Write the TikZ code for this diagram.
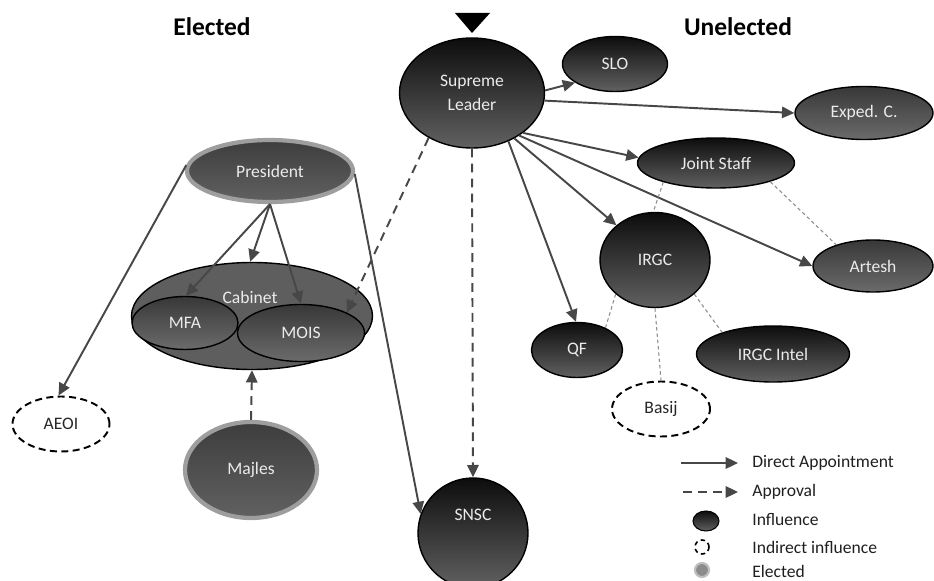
\documentclass[tikz,border=0pt]{standalone}
\usepackage{fontspec}
\setmainfont{Carlito}
\usetikzlibrary{shapes.geometric,arrows.meta}

\begin{document}
\begin{tikzpicture}[x=0.02cm,y=-0.02cm]
			\tikzstyle{every node}+=[inner sep=0pt, font=\fontsize{10}{12}\selectfont]
			\tikzstyle{infl}=[ellipse, draw=black, line width=0.8pt, top color=black!95, bottom color=black!62, text=black!8]
			\tikzstyle{infllt}=[ellipse, draw=black, line width=0.8pt, top color=black!78, bottom color=black!58, text=black!8]
			\tikzstyle{elect}=[ellipse, draw=black!38, line width=2.4pt, top color=black!76, bottom color=black!62, text=black!8]
			\tikzstyle{indir}=[ellipse, draw=black, line width=1.1pt, dash pattern=on 4pt off 2.5pt, fill=white, text=black!85]
			\tikzstyle{appt}=[draw=black!72, line width=1.1pt, -{Triangle[length=7pt,width=6.5pt]}]
			\tikzstyle{apprv}=[appt, dash pattern=on 5pt off 3.5pt]
			\tikzstyle{link}=[draw=black!45, line width=0.6pt, dash pattern=on 2pt off 1.6pt]
			\tikzstyle{head}=[font=\fontsize{14.5}{16}\selectfont\bfseries]
			\tikzstyle{lgd}=[anchor=west, text=black!88]
			\useasboundingbox (0,0) rectangle (934,581);
			\node [head] (hel) at (212,27) {Elected};
			\node [head] (hun) at (738,27) {Unelected};
			\fill [black] (455,13) -- (490,13) -- (472,33) -- cycle;
			\node [infl, minimum width=145*0.02cm, minimum height=110*0.02cm, align=center] (sl) at (472,93) {Supreme\\[2pt]Leader};
			\node [infl, minimum width=105*0.02cm, minimum height=55*0.02cm] (slo) at (615,64) {SLO};
			\node [infllt, minimum width=138*0.02cm, minimum height=53*0.02cm] (exp) at (864,113) {Exped. C.};
			\node [infl, minimum width=157*0.02cm, minimum height=50*0.02cm] (js) at (716,163) {Joint Staff};
			\node [infl, minimum width=110*0.02cm, minimum height=95*0.02cm] (irgc) at (655,260) {IRGC};
			\node [infllt, minimum width=120*0.02cm, minimum height=52*0.02cm] (art) at (873,266) {Artesh};
			\node [infl, minimum width=91*0.02cm, minimum height=55*0.02cm] (qf) at (577,350) {QF};
			\node [infl, minimum width=153*0.02cm, minimum height=56*0.02cm] (intel) at (773,354) {IRGC Intel};
			\node [indir, minimum width=98*0.02cm, minimum height=55*0.02cm] (basij) at (661,409) {Basij};
			\node [infl, minimum width=110*0.02cm, minimum height=110*0.02cm, label={[text=black!8, yshift=18*0.02cm]center:SNSC}] (snsc) at (473,533) {};
			\node [elect, minimum width=166*0.02cm, minimum height=62*0.02cm] (pres) at (270,171) {President};
			\node [ellipse, draw=black, line width=0.8pt, fill=black!63, minimum width=241*0.02cm, minimum height=107*0.02cm] (cab) at (252,316) {};
			\node [text=black!8] (cablbl) at (250,297) {Cabinet};
			\node [infllt, minimum width=106*0.02cm, minimum height=53*0.02cm] (mfa) at (185,323) {MFA};
			\node [infllt, minimum width=127*0.02cm, minimum height=57*0.02cm] (mois) at (301,333) {MOIS};
			\node [indir, minimum width=97*0.02cm, minimum height=55*0.02cm] (aeoi) at (61,424) {AEOI};
			\node [elect, minimum width=132*0.02cm, minimum height=96*0.02cm] (maj) at (251,470) {Majles};
			\draw [appt] (sl.2) -- (slo.205);
			\draw [appt] (sl.-6) -- (exp.180);
			\draw [appt] (sl.-38) -- (js.176);
			\draw [appt] (sl.-42) -- (art.180);
			\draw [appt] (sl.-47) -- (irgc.138);
			\draw [appt] (sl.-53) -- (qf.92);
			\draw [apprv] (sl.south) -- (snsc.north);
			\draw [apprv] (sl.-134) -- (mois.24);
			\draw [appt] (pres.176) -- (aeoi.95);
			\draw [appt] (pres.-2) -- (snsc.160);
			\draw [appt] (pres.south) -- (mfa.88);
			\draw [appt] (pres.south) -- (cab.92);
			\draw [appt] (pres.south) -- (mois.north);
			\draw [apprv] (maj.north) -- (cab.south);
			\draw [link] (js.-160) -- (irgc.92);
			\draw [link] (js.-19) -- (art.150);
			\draw [link] (irgc.-139) -- (qf.38);
			\draw [link] (irgc.south) -- (basij.north);
			\draw [link] (irgc.-41) -- (intel.157);
			\coordinate (lga1) at (681,463);
			\coordinate (lga2) at (738,463);
			\coordinate (lgb1) at (683,492);
			\coordinate (lgb2) at (738,492);
			\draw [appt] (lga1) -- (lga2);
			\draw [apprv] (lgb1) -- (lgb2);
			\node [infl, line width=0.6pt, minimum width=26*0.02cm, minimum height=20*0.02cm] (lgc) at (706,521) {};
			\node [indir, line width=0.9pt, dash pattern=on 2.5pt off 2pt, minimum width=14*0.02cm, minimum height=14*0.02cm] (lgd) at (702,547) {};
			\node [ellipse, draw=black!25, line width=1.2pt, fill=black!45, minimum width=14*0.02cm, minimum height=14*0.02cm] (lge) at (702,570) {};
			\node [lgd] (lgat) at (752,463) {Direct Appointment};
			\node [lgd] (lgbt) at (752,492) {Approval};
			\node [lgd] (lgct) at (752,520) {Influence};
			\node [lgd] (lgdt) at (752,547) {Indirect influence};
			\node [lgd] (lget) at (752,571) {Elected};
\end{tikzpicture}
\end{document}
